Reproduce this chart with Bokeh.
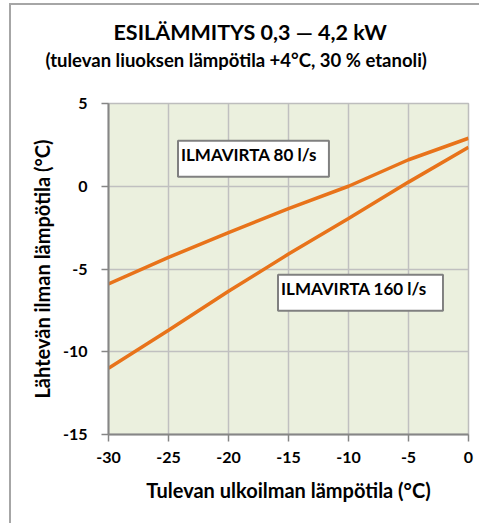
from bokeh.plotting import figure
from bokeh.models import Range1d, FixedTicker, Label, Title, PrintfTickFormatter
from bokeh.embed import file_html
from bokeh.resources import INLINE

# Data
outdoor_temp = [-30, -25, -20, -15, -10, -5, 0]
supply_80 = [-5.9, -4.3, -2.8, -1.35, 0.0, 1.6, 2.9]
supply_160 = [-11.0, -8.7, -6.35, -4.1, -1.95, 0.25, 2.35]
x_ticks = [-30, -25, -20, -15, -10, -5, 0]
y_ticks = [-15, -10, -5, 0, 5]
title_text = "ESILÄMMITYS 0,3 — 4,2 kW"
subtitle_text = "(tulevan liuoksen lämpötila +4°C, 30 % etanoli)"
label_80 = "ILMAVIRTA 80 l/s"
label_160 = "ILMAVIRTA 160  l/s"
x_label = "Tulevan ulkoilman lämpötila (°C)"
y_label = "Lähtevän ilman lämpötila (°C)"

FONT = "Lato"
ORANGE = "#E8731A"

p = figure(width=470, height=520, output_backend="svg", toolbar_location=None,
           x_range=Range1d(-30, 0), y_range=Range1d(-15, 5),
           min_border_left=97, min_border_right=13, min_border_top=98,
           min_border_bottom=91, title=None)
# stacked from the plot frame outwards: spacer, subtitle, title
p.add_layout(Title(text=" ", standoff=19, text_font_size="10px"), "above")
p.add_layout(Title(text=subtitle_text, align="left", offset=-63, standoff=2,
                   text_font=FONT, text_font_style="bold", text_font_size="18.5px",
                   text_color="black"), "above")
p.add_layout(Title(text=title_text, align="left", offset=5, standoff=2,
                   text_font=FONT, text_font_style="bold", text_font_size="21.5px",
                   text_color="black"), "above")
p.styles = {"border-left": "2px solid #a6a6a6", "border-top": "2px solid #a6a6a6",
            "margin-left": "9px", "margin-top": "3px"}

p.background_fill_color = "#EBF0DE"
p.border_fill_color = "white"
p.outline_line_color = "#bdbdbd"
p.outline_line_width = 1.5

for ax in (p.xaxis[0], p.yaxis[0]):
    ax.axis_line_color = "#868686"
    ax.axis_line_width = 2
    ax.major_tick_line_color = "#868686"
    ax.major_tick_line_width = 1.5
    ax.major_tick_out = 7
    ax.major_tick_in = 0
    ax.minor_tick_line_color = None
    ax.major_label_text_font = FONT
    ax.major_label_text_font_style = "bold"
    ax.major_label_text_font_size = "16px"
    ax.major_label_text_color = "black"
    ax.axis_label_text_font = FONT
    ax.axis_label_text_font_style = "bold"
    ax.axis_label_text_font_size = "20px"
    ax.axis_label_text_color = "black"
    ax.formatter = PrintfTickFormatter(format="%d")

p.xaxis.ticker = FixedTicker(ticks=x_ticks)
p.yaxis.ticker = FixedTicker(ticks=y_ticks)
p.xaxis.axis_label = x_label
p.yaxis.axis_label = y_label
p.xaxis.major_label_standoff = 10
p.yaxis.major_label_standoff = 14
p.xaxis.axis_label_standoff = 12
p.yaxis.axis_label_standoff = 6

p.grid.grid_line_color = "#c0c0c0"
p.grid.grid_line_width = 1.5
p.xgrid.ticker = FixedTicker(ticks=x_ticks)
p.ygrid.ticker = FixedTicker(ticks=y_ticks)

p.line(outdoor_temp, supply_80, line_color=ORANGE, line_width=3.5)
p.line(outdoor_temp, supply_160, line_color=ORANGE, line_width=3.5)

for txt, lx, ly in ((label_80, -17.92, 1.66), (label_160, -9.0, -6.44)):
    p.add_layout(Label(x=lx, y=ly, text=txt, text_align="center",
                       text_baseline="middle", text_font=FONT, text_font_style="bold",
                       text_font_size="17px", text_color="black",
                       background_fill_color="white",
                       border_line_color="#808080", border_line_width=2,
                       padding=(3, 12, 3, 12)))

open("out.html", "w").write(file_html(p, INLINE))
